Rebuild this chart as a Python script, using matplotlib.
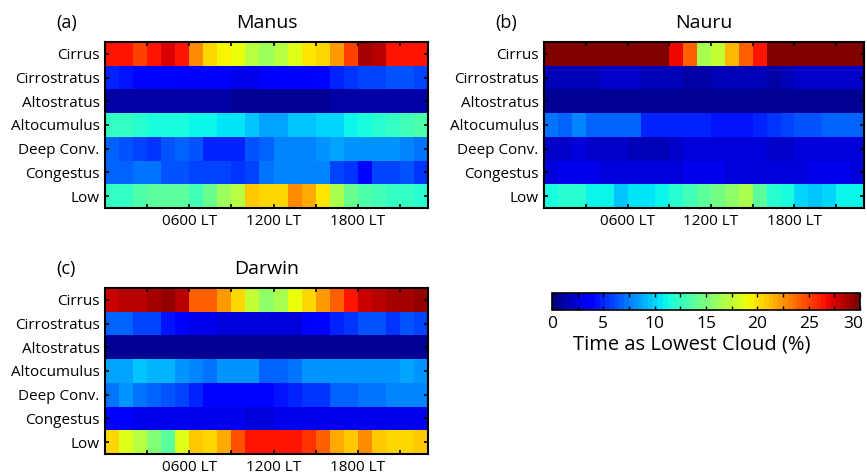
import matplotlib
matplotlib.use('Agg')
import matplotlib.pyplot as plt
import matplotlib.transforms as mtransforms
import numpy as np

plt.rcParams['font.family'] = ['Open Sans', 'DejaVu Sans']

cloud_types = ['Cirrus', 'Cirrostratus', 'Altostratus', 'Altocumulus',
               'Deep Conv.', 'Congestus', 'Low']
hour_ticks = [3, 6, 9, 12, 15, 18, 21]
hour_labels = ['', '0600 LT', '', '1200 LT', '', '1800 LT', '']

# % of time each type is the lowest cloud, one value per hour (0-22 LT)
manus_cirrus = [26.5, 26.5, 25.0, 26.5, 27.5, 26.5, 22.5, 20.5, 19.5, 19.0, 17.0, 16.3,
                17.2, 18.3, 19.8, 20.5, 22.3, 25.0, 29.0, 28.5, 26.5, 26.5, 26.5]
manus_cirrostratus = [5.0, 4.3, 4.0, 3.8, 3.8, 3.7, 3.5, 3.3, 3.3, 3.2, 3.2, 3.3,
                      3.4, 3.5, 3.6, 4.0, 4.8, 5.2, 5.8, 6.0, 6.5, 6.2, 5.8]
manus_altostratus = [1.3, 1.3, 1.1, 1.1, 1.1, 1.1, 1.1, 1.1, 1.1, 0.8, 0.8, 0.8,
                     0.8, 0.8, 0.8, 0.8, 1.0, 1.0, 1.0, 1.1, 1.4, 1.4, 1.4]
manus_altocumulus = [12.5, 12.5, 12.0, 11.5, 11.5, 11.5, 11.0, 11.0, 10.6, 10.6, 9.5, 8.7,
                     8.9, 9.4, 9.7, 10.0, 10.3, 11.2, 11.3, 11.8, 12.5, 13.0, 13.5]
manus_deepconv = [7.0, 6.5, 6.0, 5.5, 6.2, 6.7, 6.2, 5.0, 5.0, 5.0, 6.2, 6.8,
                  7.7, 7.7, 7.7, 8.3, 8.6, 8.4, 8.3, 8.3, 8.3, 7.9, 7.3]
manus_congestus = [7.0, 7.0, 7.2, 7.2, 6.3, 6.3, 6.0, 6.0, 6.0, 5.4, 6.0, 7.2,
                   7.5, 7.5, 7.5, 7.5, 5.8, 5.5, 4.2, 5.8, 6.0, 6.2, 5.4]
manus_low = [12.5, 12.5, 13.3, 13.8, 13.8, 13.8, 13.0, 14.3, 16.0, 17.3, 21.0, 20.5,
             20.5, 22.5, 22.0, 20.0, 16.8, 14.3, 13.3, 13.0, 12.4, 12.2, 12.0]

nauru_cirrus = [29.6, 29.6, 29.6, 29.6, 29.6, 29.6, 29.6, 29.6, 29.6, 27.0, 24.0, 16.5,
                17.5, 21.5, 24.0, 26.5, 29.6, 29.6, 29.6, 29.6, 29.6, 29.6, 29.6]
nauru_cirrostratus = [1.5, 1.5, 1.5, 1.5, 1.9, 1.9, 1.9, 1.7, 1.7, 1.7, 1.4, 1.4,
                      1.8, 1.6, 1.6, 1.6, 1.3, 1.6, 1.9, 1.9, 1.9, 1.9, 1.9]
nauru_altostratus = [0.8, 0.8, 0.8, 0.8, 0.8, 0.8, 0.6, 0.6, 0.6, 0.6, 0.6, 0.6,
                     0.6, 0.6, 0.6, 0.6, 0.6, 0.6, 0.6, 0.7, 0.7, 0.5, 0.5]
nauru_altocumulus = [7.3, 7.0, 7.5, 6.8, 6.8, 6.6, 6.6, 4.8, 4.8, 4.8, 5.0, 4.8,
                     4.6, 4.4, 4.4, 5.0, 5.6, 6.0, 6.2, 6.5, 6.8, 7.0, 6.8]
nauru_deepconv = [2.3, 2.3, 2.6, 2.3, 1.9, 2.1, 1.6, 1.6, 1.6, 2.3, 2.6, 2.5,
                  2.8, 2.5, 2.5, 2.5, 2.1, 2.3, 2.6, 2.6, 2.6, 2.6, 2.6]
nauru_congestus = [2.6, 2.9, 2.9, 2.9, 2.7, 2.7, 2.7, 2.7, 2.8, 2.8, 2.9, 3.0,
                   2.9, 2.8, 2.8, 2.8, 2.8, 2.8, 2.8, 2.9, 3.0, 2.9, 2.8]
nauru_low = [11.5, 11.8, 11.8, 11.2, 11.1, 9.7, 10.7, 10.7, 10.8, 12.0, 13.0, 13.8,
             14.7, 15.8, 16.8, 14.0, 12.0, 11.3, 10.0, 9.7, 10.3, 10.8, 10.8]

darwin_cirrus = [28.0, 28.3, 28.3, 28.8, 29.5, 28.5, 24.0, 24.0, 22.3, 20.5, 17.6, 15.8,
                 16.7, 19.0, 20.5, 22.3, 24.0, 26.5, 28.0, 28.3, 28.8, 29.0, 29.4]
darwin_cirrostratus = [6.6, 6.6, 6.0, 6.0, 4.5, 3.5, 3.0, 3.0, 2.7, 2.7, 2.7, 2.8,
                       2.8, 2.8, 3.3, 4.2, 4.8, 5.5, 6.2, 6.2, 5.6, 6.2, 6.0]
darwin_altostratus = [0.9, 0.9, 0.9, 0.9, 0.7, 0.7, 0.6, 0.6, 0.6, 0.6, 0.6, 0.6,
                      0.6, 0.6, 0.6, 0.6, 0.6, 0.6, 0.6, 0.6, 0.6, 0.6, 0.6]
darwin_altocumulus = [8.7, 8.5, 9.4, 9.1, 9.1, 8.3, 7.7, 7.4, 8.0, 8.0, 8.0, 6.9,
                      6.6, 7.1, 8.0, 8.0, 8.1, 8.1, 8.1, 8.1, 8.3, 8.6, 8.0]
darwin_deepconv = [7.1, 8.0, 7.1, 6.9, 6.3, 6.0, 5.0, 3.8, 3.8, 4.0, 4.2, 4.2,
                   4.5, 4.8, 5.5, 5.2, 6.9, 6.9, 7.1, 7.1, 7.6, 7.6, 7.6]
darwin_congestus = [3.3, 3.3, 3.2, 3.2, 3.2, 3.2, 3.1, 3.1, 3.1, 3.0, 2.8, 2.8,
                    2.9, 3.0, 3.0, 3.1, 3.1, 3.2, 3.2, 3.2, 3.2, 3.2, 3.2]
darwin_low = [20.2, 18.4, 17.0, 15.2, 13.7, 18.4, 21.0, 20.5, 22.0, 24.6, 26.5, 26.5,
              26.5, 26.5, 25.5, 24.2, 22.0, 20.8, 22.8, 21.0, 20.5, 20.2, 20.8]

cmap = plt.get_cmap('jet', 64)
vmin, vmax = 0, 30


def draw_site(ax, rows, title, letter):
    grid = np.array(rows)
    x = np.arange(grid.shape[1] + 1)
    y = np.arange(grid.shape[0] + 1)
    mesh = ax.pcolormesh(x, y, grid, cmap=cmap, vmin=vmin, vmax=vmax)
    ax.set_xlim(0, grid.shape[1])
    ax.set_ylim(grid.shape[0], 0)
    ax.set_yticks(np.arange(grid.shape[0]) + 0.5)
    ax.set_yticklabels(cloud_types, fontsize=11)
    ax.set_xticks(hour_ticks)
    ax.set_xticklabels(hour_labels, fontsize=11)
    ax.tick_params(direction='in', length=3, width=1.2, top=True, right=True, pad=4)
    for s in ax.spines.values():
        s.set_linewidth(1.5)
    ax.set_title(title, fontsize=14, pad=10)
    ax.text(-0.12, 1.115, letter, transform=ax.transAxes, fontsize=13,
            ha='center', va='center')
    return mesh


fig = plt.figure(figsize=(8.67, 4.74), dpi=100)

ax_manus = fig.add_axes([0.1211, 0.5612, 0.3726, 0.3502])
ax_nauru = fig.add_axes([0.6275, 0.5612, 0.3691, 0.3502])
ax_darwin = fig.add_axes([0.1211, 0.0422, 0.3726, 0.3502])

draw_site(ax_manus, [manus_cirrus, manus_cirrostratus, manus_altostratus, manus_altocumulus,
                     manus_deepconv, manus_congestus, manus_low], 'Manus', '(a)')
draw_site(ax_nauru, [nauru_cirrus, nauru_cirrostratus, nauru_altostratus, nauru_altocumulus,
                     nauru_deepconv, nauru_congestus, nauru_low], 'Nauru', '(b)')
m = draw_site(ax_darwin, [darwin_cirrus, darwin_cirrostratus, darwin_altostratus,
                          darwin_altocumulus, darwin_deepconv, darwin_congestus, darwin_low],
              'Darwin', '(c)')

# shared colour scale
cax = fig.add_axes([0.6367, 0.346, 0.3552, 0.0359])
cb = fig.colorbar(m, cax=cax, orientation='horizontal')
cb.set_ticks(np.arange(0, 31, 5))
cb.ax.set_xticks(np.arange(0, 30.1, 2.5), minor=True)
cb.ax.tick_params(which='both', direction='in', top=True, bottom=True, length=3,
                  width=1, labelsize=12.5, pad=4)
cb.outline.set_linewidth(1.2)
cb.set_label('Time as Lowest Cloud (%)', fontsize=14.5, labelpad=0)
cb.ax.xaxis.set_label_coords(0.455, -1.45)

# keep the "30" inside the figure edge
last = cb.ax.get_xticklabels()[-1]
last.set_transform(last.get_transform() +
                   mtransforms.ScaledTranslation(-5 / 72, 0, fig.dpi_scale_trans))

fig.savefig('out.png', dpi=100)
